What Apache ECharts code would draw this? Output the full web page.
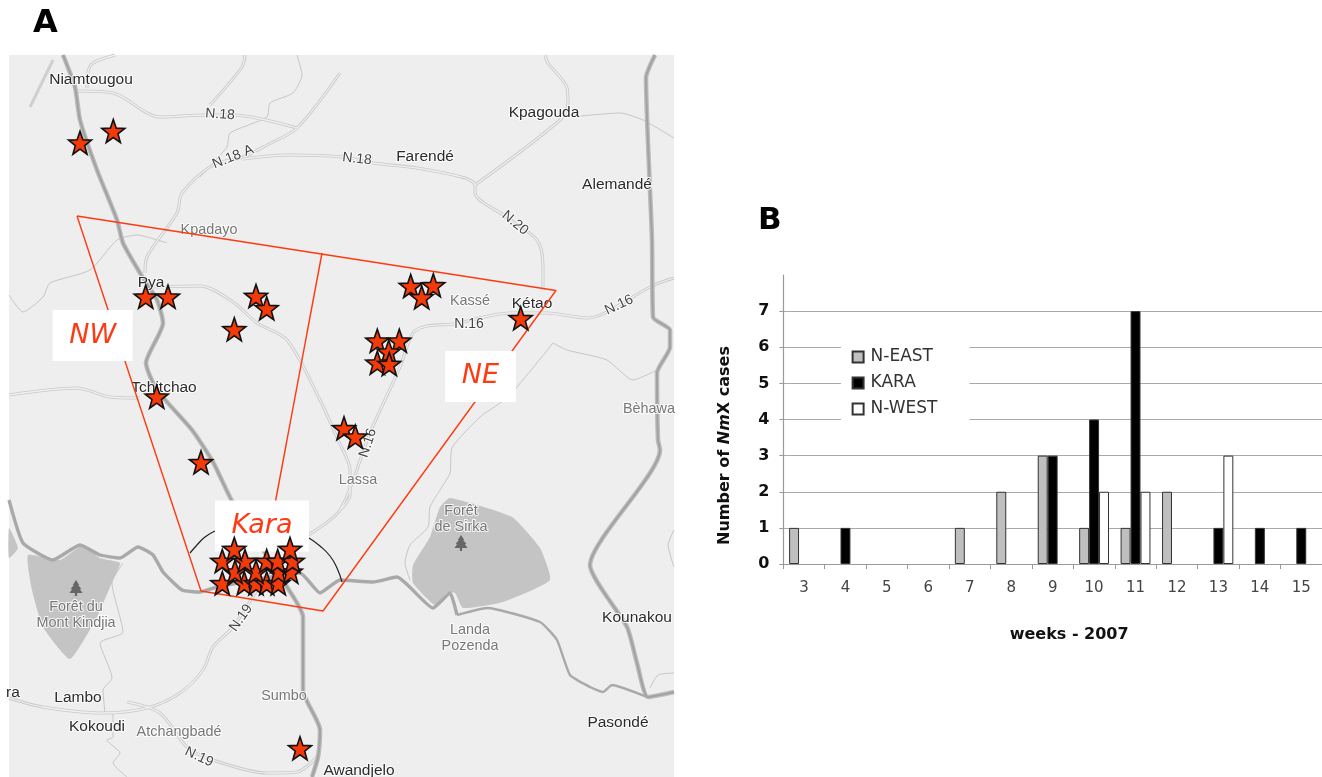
<!DOCTYPE html>
<html><head><meta charset="utf-8">
<style>html,body{margin:0;padding:0;background:#fff}#c{width:1322px;height:777px}</style>
<script src="https://cdn.jsdelivr.net/npm/echarts@6/dist/echarts.min.js"></script>
</head><body><div id="c"></div>
<script>
// ---------- Panel B data ----------
var weeks = ['3','4','5','6','7','8','9','10','11','12','13','14','15'];
var nEast = [1,0,0,0,1,2,3,1,1,2,0,0,0];
var kara  = [0,1,0,0,0,0,3,4,7,0,1,1,1];
var nWest = [0,0,0,0,0,0,0,2,2,0,3,0,0];
var yTicks = [0,1,2,3,4,5,6,7];

// ---------- Panel A data (map coordinates) ----------
var casesNorth = [[80,142.7],[113.3,131]];
var casesNW = [[145.7,296.7],[168,296.7],[256,296],[266.7,308.3],[234.3,329.3],[156.7,396.7],[201,462.3]];
var casesNE = [[410.7,286],[433.3,285.3],[421.7,297.3],[520.7,318.3],[377.3,340.7],[399.3,340.7],[388.7,351.7],[377.3,362.7],[389.3,364],[344,428.3],[355.3,436.7]];
var casesKara = [[222.3,583.3],[244.3,583.3],[256,583.3],[266.7,583.3],[278.3,583.3],[235,571.7],[256,571.7],[278.3,571.7],[290.7,571.7],[222.3,561],[245,561],[266.7,561],[277.7,561],[292.7,561],[234.3,549],[290,549]];
var casesSouth = [[300,748.3]];

var zoneOutline = [[77,216],[556,290.5],[323,611],[201,591],[77,216]];
var zoneDivider = [[322,253],[272,520]];
var arcLeft = [[190,553],[197,545],[205,537],[215,531]];
var arcRight = [[309,538],[320,546],[330,556],[337,568],[342,582]];

var highwayWest = [[63,55],[75,87],[80,120],[97,170],[117,220],[123,243],[140,273],[157,300],[163,323],[146,363],[157,390],[192,430],[213,462],[232,501],[287,587],[303,617],[303,690],[320,730],[318,757],[312,777]];
var highwayEast = [[655,55],[646,78],[652,240],[653,317],[670,330],[670,347],[657,373],[658,440],[660,450],[590,565],[627,627],[637,663],[648,697],[674,692]];
var riverWest = [[9,500],[23,543],[53,560],[80,545],[100,555],[120,558],[138,547],[153,555],[163,572],[182,590],[200,592],[217,587],[300,573],[320,593],[340,580],[373,582],[397,577],[433,608],[450,593],[457,615]];
var riverEast = [[457,615],[487,608],[540,622],[557,640],[570,675],[590,687],[603,692],[612,685],[647,697]];

var roadN18 = [[78,91],[113,93],[160,117],[207,115],[233,115],[297,128]];
var roadN18A = [[340,73],[297,128],[267,145],[243,157],[213,165],[182,193],[177,213],[147,257],[145,273]];
var roadN18East = [[243,159],[287,155],[343,157],[373,163],[417,168],[465,178],[475,185],[475,193],[503,215],[537,240],[543,267],[543,290]];
var roadKpagouda = [[475,185],[560,120],[568,103],[567,88],[548,63],[545,55]];
var roadN16 = [[308,535],[340,510],[370,433],[400,367],[413,333],[427,326],[453,324],[510,313],[547,313],[587,318],[607,312],[650,287],[674,278]];
var roadPya = [[147,287],[200,286],[233,302],[257,323],[287,340],[320,400],[338,440],[350,470],[350,495],[340,510]];
var roadNorthA = [[245,55],[242,67],[210,105]];
var roadNorthB = [[115,55],[93,63],[88,72],[87,88]];
var roadTchitchao = [[9,395],[77,388],[110,397],[140,398]];
var roadN19 = [[257,590],[233,627],[213,647],[203,670],[180,693],[147,708],[103,713],[43,707],[9,698]];
var roadN19South = [[127,702],[160,713],[187,747],[213,760],[267,773],[297,772],[317,757]];

var trackA = [[297,55],[302,75],[293,93],[270,103],[267,117],[230,133],[227,147],[200,177]];
var trackB = [[167,243],[137,235],[117,240],[90,270],[50,283],[43,297],[23,312],[9,295]];
var trackC = [[580,116],[620,113],[643,120],[674,138]];
var trackD = [[553,343],[567,350],[607,360],[633,380],[657,370]];
var trackE = [[553,343],[517,387],[500,403],[480,417],[452,448],[450,473],[440,490],[430,507],[428,527],[410,545],[405,563],[410,580]];
var trackF = [[123,563],[112,583],[123,632],[100,643],[112,678],[103,690],[105,713]];
var trackG = [[113,713],[113,737],[107,740],[120,753],[113,763],[127,777]];
var trackH = [[674,530],[668,545],[674,567]];
var trackI = [[650,688],[658,675],[674,673]];
var trackJ = [[53,60],[30,107]];

var forestSirka = [[450,498],[512,517],[540,548],[550,580],[503,602],[463,608],[455,593],[447,593],[435,605],[413,583],[413,565],[430,537],[440,507]];
var forestKindjia = [[28,555],[60,560],[83,545],[100,558],[120,563],[113,580],[97,617],[70,659],[43,627],[32,590]];
var forestEdge = [[9,528],[18,548],[9,558]];
var forestTrees = [[76,588],[461,543]];

var townNames = ['Niamtougou','Kpagouda','Farendé','Alemandé','Pya','Tchitchao','Kétao','Lambo','Kokoudi','Kounakou','Pasondé','Awandjelo','ra'];
var townPlaces = [[91,80],[544,113],[425,157],[617,185],[151,283],[164,388],[532,304],[78,698],[97,727],[637,618],[618,723],[359,771],[13,693]];
var villageNames = ['Kpadayo','Kassé','Bèhawa','Lassa','Forêt\nde Sirka','Landa\nPozenda','Forêt du\nMont Kindjia','Sumbo','Atchangbadé'];
var villagePlaces = [[209,230],[470,301],[649,409],[358,480],[461,519],[470,638],[76,615],[284,696],[179,732]];
var roadNames = ['N.18','N.18 A','N.18','N.20','N.16','N.16','N.16','N.19','N.19'];
var roadPlaces = [[220,114.5],[233,157],[357,159],[515,223],[469,324],[619,305],[368,443],[241,618],[199,757]];
var roadTilts = [-4,22,-6,-40,0,25,72,55,-25];
var zoneNames = ['NW','NE','Kara'];
var zonePlaces = [[92.7,335.5],[480.5,376.4],[262,526]];
var zoneBoxWidths = [80,71,94];

// ---------- helpers ----------
var STAR = 'path://M12 0 L15 8.6 L24 8.9 L16.9 14.4 L19.4 23 L12 18 L4.6 23 L7.1 14.4 L0 8.9 L9 8.6Z';
var TREE = 'path://M6 0 L9 5 L8 5 L11 9 L9.5 9 L12 13 L7 13 L7 16 L5 16 L5 13 L0 13 L2.5 9 L1 9 L4 5 L3 5Z';
var MAP = {xAxisIndex:0,yAxisIndex:0,silent:true,animation:false};
function line(pts,color,w,z,smooth){
  return Object.assign({type:'line',data:pts,symbol:'none',smooth:smooth===undefined?0.3:smooth,
    lineStyle:{color:color,width:w},z:z},MAP);
}
function road(pts){ return [line(pts,'#c8c8c8',3,3), line(pts,'#f0f0f0',1.3,4)]; }
function main(pts){ return [line(pts,'#bcbcbc',4.6,5,0.2), line(pts,'#a2a2a2',2,6,0.2)]; }
function poly(pts,color){
  return Object.assign({type:'custom',coordinateSystem:'cartesian2d',z:2,data:[0],
    renderItem:function(p,api){
      return {type:'polygon',shape:{points:pts.map(function(q){return api.coord(q);}),smooth:0.15},style:{fill:color}};
    }},MAP);
}
function textLayer(names,places,tilts,style,z){
  return Object.assign({type:'scatter',symbolSize:1,z:z,itemStyle:{color:'transparent',opacity:1},
    data:names.map(function(n,i){
      return {value:places[i],label:Object.assign({show:true,position:'inside',formatter:n,rotate:tilts?tilts[i]:0},style)};
    })},MAP);
}
function stars(pts){
  return Object.assign({type:'scatter',data:pts,symbol:STAR,symbolSize:[23,23],z:30,
    itemStyle:{color:'#f53a0a',borderColor:'#111',borderWidth:1.6,opacity:1}},MAP);
}
function bars(name,vals,fill){
  return {name:name,type:'bar',xAxisIndex:1,yAxisIndex:1,barWidth:'24%',barGap:'0%',animation:false,
    data:vals.map(function(v){return v===0?'-':v;}),
    itemStyle:{color:fill,borderColor:'#333',borderWidth:1}};
}
var halo = {fontFamily:'Liberation Sans',textBorderColor:'rgba(255,255,255,0.85)',textBorderWidth:2};

var series = [].concat(
  [poly(forestSirka,'#c4c4c4'),poly(forestKindjia,'#c4c4c4'),poly(forestEdge,'#c4c4c4')],
  [trackA,trackB,trackC,trackD,trackE,trackF,trackG,trackH,trackI].map(function(t){return line(t,'#c6c6c6',1,3,0.2);}),
  [line(trackJ,'#cfcfcf',3,3,0)],
  [roadN18,roadN18A,roadN18East,roadKpagouda,roadN16,roadPya,roadNorthA,roadNorthB,roadTchitchao,roadN19,roadN19South].reduce(function(a,r){return a.concat(road(r));},[]),
  main(highwayWest),main(highwayEast),
  [line(riverWest,'#a9a9a9',3.4,7,0.15),line(riverEast,'#a9a9a9',2.4,7,0.15)],
  [Object.assign({type:'scatter',data:forestTrees,symbol:TREE,symbolSize:[13,16],z:8,itemStyle:{color:'#666',opacity:1}},MAP)],
  [textLayer(townNames,townPlaces,null,Object.assign({fontSize:15.5,color:'#2b2b2b'},halo),12)],
  [textLayer(villageNames,villagePlaces,null,Object.assign({fontSize:14.4,color:'#777',lineHeight:16},halo),12)],
  [textLayer(roadNames,roadPlaces,roadTilts,Object.assign({fontSize:14,color:'#444'},halo),12)],
  [line(zoneOutline,'#ff3a12',1.4,15,false),line(zoneDivider,'#ff3a12',1.4,15,false)],
  [line(arcLeft,'#222',1.2,15,0.5),line(arcRight,'#222',1.2,15,0.5)],
  [Object.assign({type:'scatter',symbolSize:1,z:20,itemStyle:{color:'transparent',opacity:1},
    data:zoneNames.map(function(n,i){
      return {value:zonePlaces[i],label:{show:true,position:'inside',formatter:n,fontFamily:'DejaVu Sans',
        fontStyle:'italic',fontSize:27,color:'#ff3a12',backgroundColor:'#fff',align:'center',verticalAlign:'middle',
        width:zoneBoxWidths[i],height:51,lineHeight:51}};
    })},MAP)],
  [stars(casesNorth),stars(casesNW),stars(casesNE),stars(casesKara),stars(casesSouth)],
  [bars('N-EAST',nEast,'#bfbfbf'),bars('KARA',kara,'#000'),bars('N-WEST',nWest,'#fff')]
);

var chart = echarts.init(document.getElementById('c'),null,{renderer:'canvas'});
chart.setOption({
  backgroundColor:'#fff',animation:false,
  title:[
    {text:'A',left:33,top:8,padding:0,textStyle:{fontFamily:'DejaVu Sans',fontWeight:'bold',fontSize:32,color:'#000'}},
    {text:'B',left:758,top:205,padding:0,textStyle:{fontFamily:'DejaVu Sans',fontWeight:'bold',fontSize:31,color:'#000'}}
  ],
  legend:{data:['N-EAST','KARA','N-WEST'],orient:'vertical',left:841,top:337,selectedMode:false,icon:'rect',
    itemWidth:11,itemHeight:11,itemGap:6,padding:[10,32,6,10.6],backgroundColor:'#fff',z:6,
    textStyle:{fontFamily:'DejaVu Sans',fontSize:17,lineHeight:20,color:'#333',padding:[0,0,0,2]}},
  grid:[
    {left:9,top:55,width:665,height:722,show:true,backgroundColor:'#eeeeee',borderWidth:0},
    {left:783.3,top:275,width:538.7,height:289,show:false}
  ],
  xAxis:[
    {gridIndex:0,type:'value',min:9,max:674,show:false},
    {gridIndex:1,type:'category',data:weeks,
      axisLine:{lineStyle:{color:'#999',width:1.2}},
      axisTick:{show:true,length:5,lineStyle:{color:'#999'}},
      axisLabel:{fontFamily:'DejaVu Sans',fontSize:15,color:'#444',margin:17},
      name:'weeks - 2007',nameLocation:'middle',nameGap:63,
      nameTextStyle:{fontFamily:'DejaVu Sans',fontWeight:'bold',fontSize:16,color:'#111',padding:[0,0,0,33]}}
  ],
  yAxis:[
    {gridIndex:0,type:'value',min:55,max:777,inverse:true,show:false},
    {gridIndex:1,type:'value',min:0,max:8,interval:1,
      axisLine:{show:true,lineStyle:{color:'#999',width:1.2}},
      axisTick:{show:true,length:4,customValues:yTicks,lineStyle:{color:'#999'}},
      axisLabel:{customValues:yTicks,fontFamily:'DejaVu Sans',fontWeight:'bold',fontSize:16,color:'#111',margin:14},
      splitLine:{show:true,showMinLine:false,showMaxLine:true,lineStyle:{color:'#aaaaaa',width:1.2}},
      name:'{t|Number of }{i|Nm}{t|X cases}',nameLocation:'middle',nameGap:50,nameRotate:90,
      nameTextStyle:{padding:[0,52,0,0],rich:{
        t:{fontFamily:'DejaVu Sans',fontWeight:'bold',fontSize:16,color:'#111'},
        i:{fontFamily:'DejaVu Sans',fontWeight:'bold',fontStyle:'italic',fontSize:16,color:'#111'}}}}
  ],
  series:series
});
</script></body></html>
